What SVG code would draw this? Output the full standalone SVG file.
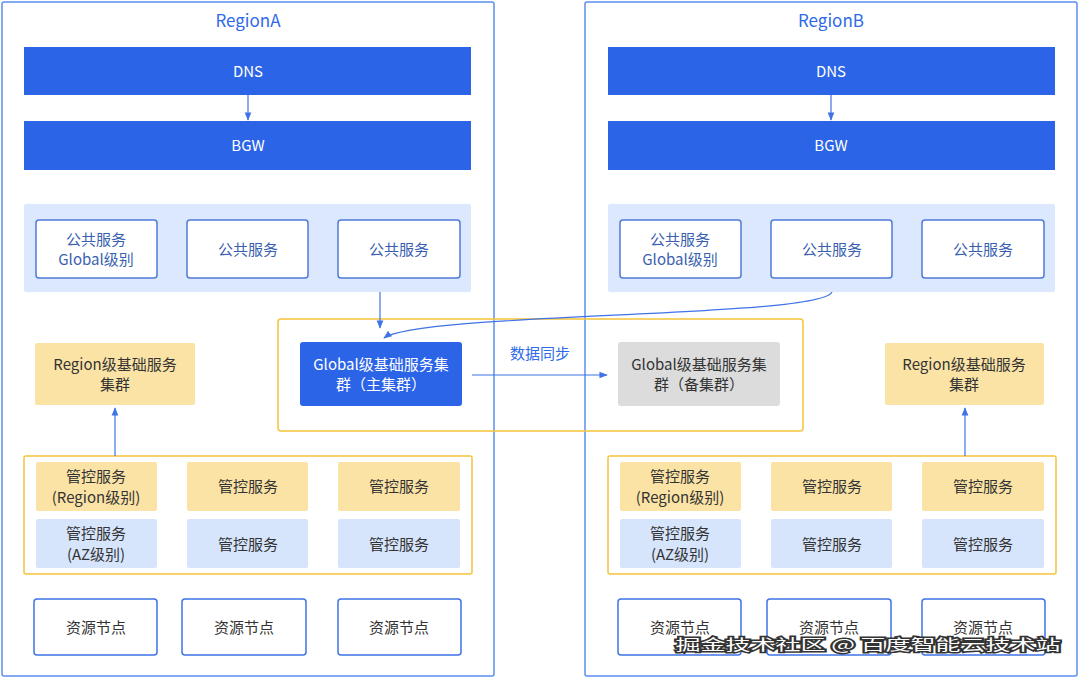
<svg xmlns="http://www.w3.org/2000/svg" width="1080" height="678" viewBox="0 0 1080 678">
<style>
text{font-family:"Noto Sans CJK SC","Noto Sans",sans-serif;font-size:15px;text-anchor:middle;dominant-baseline:central}
.region{fill:#fff;stroke:#5b8ef0;stroke-width:1.5}
.rt{fill:#2f6ae8;font-size:17px}
.bar{fill:#2b64e6}
.wt{fill:#fff}
.band{fill:#dbe8fd}
.pub{fill:#fff;stroke:#4f79d8;stroke-width:1.5}
.bt{fill:#3a5fb0}
.yel{fill:#fbe3a6}
.blu{fill:#d6e5fc}
.dt{fill:#333}
.ybox{fill:none;stroke:#f5c33b;stroke-width:1.5}
.res{fill:#fff;stroke:#3f73e6;stroke-width:1.5}
.ln{stroke:#3f73e6;stroke-width:1.2;fill:none;marker-end:url(#a)}
</style>
<defs><marker id="a" viewBox="0 0 10 10" refX="9" refY="5" markerWidth="7" markerHeight="7" orient="auto"><path d="M0,1L10,5L0,9z" fill="#3f73e6"/></marker></defs>
<rect class="region" x="2" y="2" width="492" height="674" rx="2"/>
<rect class="region" x="585" y="2" width="492" height="674" rx="2"/>
<text class="rt" x="248" y="19">RegionA</text>
<text class="rt" x="831" y="19">RegionB</text>
<g id="dnsA"><rect class="bar" x="24" y="47" width="447" height="48"/><text class="wt" x="248" y="70">DNS</text></g>
<g id="bgwA"><rect class="bar" x="24" y="121" width="447" height="49"/><text class="wt" x="248" y="144">BGW</text></g>
<g id="dnsB"><rect class="bar" x="608" y="47" width="447" height="48"/><text class="wt" x="831" y="70">DNS</text></g>
<g id="bgwB"><rect class="bar" x="608" y="121" width="447" height="49"/><text class="wt" x="831" y="144">BGW</text></g>
<rect class="band" x="24" y="204" width="447" height="88" rx="2"/>
<rect class="band" x="608" y="204" width="447" height="88" rx="2"/>
<g id="pubA1"><rect class="pub" x="36" y="220" width="121" height="58" rx="3"/><text class="bt" x="96" y="238">公共服务</text><text class="bt" x="96" y="258">Global级别</text></g>
<g id="pubA2"><rect class="pub" x="187" y="220" width="121" height="58" rx="3"/><text class="bt" x="248" y="248">公共服务</text></g>
<g id="pubA3"><rect class="pub" x="338" y="220" width="122" height="58" rx="3"/><text class="bt" x="399" y="248">公共服务</text></g>
<g id="pubB1"><rect class="pub" x="620" y="220" width="121" height="58" rx="3"/><text class="bt" x="680" y="238">公共服务</text><text class="bt" x="680" y="258">Global级别</text></g>
<g id="pubB2"><rect class="pub" x="771" y="220" width="121" height="58" rx="3"/><text class="bt" x="832" y="248">公共服务</text></g>
<g id="pubB3"><rect class="pub" x="922" y="220" width="122" height="58" rx="3"/><text class="bt" x="983" y="248">公共服务</text></g>
<rect class="ybox" x="278" y="319" width="525" height="112" rx="3"/>
<g id="gMain"><rect class="bar" x="300" y="342" width="162" height="64" rx="3"/><text class="wt" x="381" y="363">Global级基础服务集</text><text class="wt" x="381" y="383">群（主集群）</text></g>
<g id="gBak"><rect fill="#dcdcdc" x="618" y="342" width="162" height="64" rx="3"/><text class="dt" x="699" y="363">Global级基础服务集</text><text class="dt" x="699" y="383">群（备集群）</text></g>
<g id="rcA"><rect class="yel" x="35" y="343" width="160" height="62" rx="2"/><text class="dt" x="115" y="363">Region级基础服务</text><text class="dt" x="115" y="383">集群</text></g>
<g id="rcB"><rect class="yel" x="885" y="343" width="159" height="62" rx="2"/><text class="dt" x="964" y="363">Region级基础服务</text><text class="dt" x="964" y="383">集群</text></g>
<rect class="ybox" x="24" y="456" width="448" height="118" rx="2"/>
<rect class="ybox" x="608" y="456" width="448" height="118" rx="2"/>
<g id="mA1"><rect class="yel" x="36" y="462" width="121" height="49" rx="2"/><text class="dt" x="96" y="475">管控服务</text><text class="dt" x="96" y="496">(Region级别)</text></g>
<g id="mA2"><rect class="yel" x="187" y="462" width="121" height="49" rx="2"/><text class="dt" x="248" y="485">管控服务</text></g>
<g id="mA3"><rect class="yel" x="338" y="462" width="122" height="49" rx="2"/><text class="dt" x="399" y="485">管控服务</text></g>
<g id="mA4"><rect class="blu" x="36" y="519" width="121" height="49" rx="2"/><text class="dt" x="96" y="532">管控服务</text><text class="dt" x="96" y="553">(AZ级别)</text></g>
<g id="mA5"><rect class="blu" x="187" y="519" width="121" height="49" rx="2"/><text class="dt" x="248" y="543">管控服务</text></g>
<g id="mA6"><rect class="blu" x="338" y="519" width="122" height="49" rx="2"/><text class="dt" x="399" y="543">管控服务</text></g>
<g id="mB1"><rect class="yel" x="620" y="462" width="121" height="49" rx="2"/><text class="dt" x="680" y="475">管控服务</text><text class="dt" x="680" y="496">(Region级别)</text></g>
<g id="mB2"><rect class="yel" x="771" y="462" width="121" height="49" rx="2"/><text class="dt" x="832" y="485">管控服务</text></g>
<g id="mB3"><rect class="yel" x="922" y="462" width="122" height="49" rx="2"/><text class="dt" x="983" y="485">管控服务</text></g>
<g id="mB4"><rect class="blu" x="620" y="519" width="121" height="49" rx="2"/><text class="dt" x="680" y="532">管控服务</text><text class="dt" x="680" y="553">(AZ级别)</text></g>
<g id="mB5"><rect class="blu" x="771" y="519" width="121" height="49" rx="2"/><text class="dt" x="832" y="543">管控服务</text></g>
<g id="mB6"><rect class="blu" x="922" y="519" width="122" height="49" rx="2"/><text class="dt" x="983" y="543">管控服务</text></g>
<g id="rA1"><rect class="res" x="34" y="599" width="123" height="56" rx="3"/><text class="dt" x="96" y="626">资源节点</text></g>
<g id="rA2"><rect class="res" x="182" y="599" width="124" height="56" rx="3"/><text class="dt" x="244" y="626">资源节点</text></g>
<g id="rA3"><rect class="res" x="338" y="599" width="123" height="56" rx="3"/><text class="dt" x="399" y="626">资源节点</text></g>
<g id="rB1"><rect class="res" x="618" y="599" width="123" height="56" rx="3"/><text class="dt" x="680" y="626">资源节点</text></g>
<g id="rB2"><rect class="res" x="767" y="599" width="124" height="56" rx="3"/><text class="dt" x="829" y="626">资源节点</text></g>
<g id="rB3"><rect class="res" x="922" y="599" width="123" height="56" rx="3"/><text class="dt" x="983" y="626">资源节点</text></g>
<g id="connectors">
<path class="ln" d="M248,95V120"/>
<path class="ln" d="M831,95V120"/>
<path class="ln" d="M380,292V328"/>
<path class="ln" d="M832,292C822,318 420,312 384,338"/>
<path class="ln" d="M472,375H607"/>
<path class="ln" d="M115,456V408"/>
<path class="ln" d="M965,456V408"/>
<text x="540" y="352" fill="#2f6ae8" font-size="14">数据同步</text>
</g>
<text x="868" y="643" font-size="23" textLength="385" lengthAdjust="spacingAndGlyphs" fill="#fff" stroke="#333" stroke-width="3" paint-order="stroke">掘金技术社区 @ 百度智能云技术站</text>
</svg>
